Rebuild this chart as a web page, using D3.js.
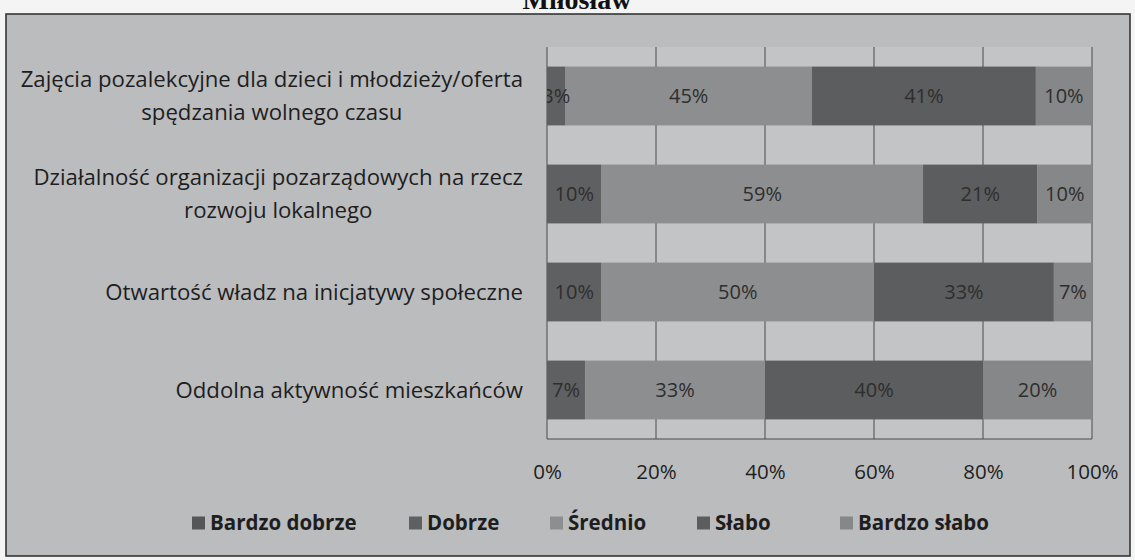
<!DOCTYPE html>
<html>
<head>
<meta charset="utf-8">
<script src="https://cdn.jsdelivr.net/npm/d3@7"></script>
<style>
  body { margin: 0; background: #f4f4f4; }
  text { font-family: "Open Sans", "Noto Sans", sans-serif; }
</style>
</head>
<body>
<svg id="chart" width="1135" height="560"></svg>
<script>
const title = "Miłosław";
const categories = [
    ["Zajęcia pozalekcyjne dla dzieci i młodzieży/oferta", "spędzania wolnego czasu"],
    ["Działalność organizacji pozarządowych na rzecz", "rozwoju lokalnego"],
    ["Otwartość władz na inicjatywy społeczne"],
    ["Oddolna aktywność mieszkańców"]
];
const seriesNames = ["Bardzo dobrze", "Dobrze", "Średnio", "Słabo", "Bardzo słabo"];
const bardzoDobrze = [0, 0, 0, 0];
const dobrze = [3.4, 10, 10, 7];
const srednio = [45.2, 59, 50, 33];
const slabo = [41.1, 21, 33, 40];
const bardzoSlabo = [10.3, 10, 7, 20];
const tickValues = [0, 20, 40, 60, 80, 100];
const colors = ["#555657", "#5f6061", "#8d8e8f", "#5c5d5e", "#868788"];

const svg = d3.select("#chart");
const W = 1135, H = 560;
const plot = {left: 547, right: 1092, top: 47, bottom: 439};

// background + frame
svg.append("rect").attr("width", W).attr("height", H).attr("fill", "#f4f4f4");
svg.append("rect")
    .attr("x", 6).attr("y", 14).attr("width", 1124).attr("height", 542)
    .attr("fill", "#bbbcbe").attr("stroke", "#2a2a2a").attr("stroke-width", 1.5);

svg.append("text")
    .attr("x", 577).attr("y", 9)
    .attr("text-anchor", "middle")
    .style("font-family", "'Liberation Serif', serif")
    .style("font-weight", "bold")
    .style("font-size", "28px")
    .attr("fill", "#111")
    .text(title);

const keys = categories.map(c => c.join(" "));
const rows = keys.map((k, i) => ({
    key: k,
    "Bardzo dobrze": bardzoDobrze[i],
    "Dobrze": dobrze[i],
    "Średnio": srednio[i],
    "Słabo": slabo[i],
    "Bardzo słabo": bardzoSlabo[i]
}));

const x = d3.scaleLinear().domain([0, 100]).range([plot.left, plot.right]);
const y = d3.scaleBand().domain(keys).range([plot.top, plot.bottom])
    .paddingInner(0.4).paddingOuter(0.2);
const color = d3.scaleOrdinal().domain(seriesNames).range(colors);

// plot area
svg.append("rect")
    .attr("x", plot.left).attr("y", plot.top)
    .attr("width", plot.right - plot.left).attr("height", plot.bottom - plot.top)
    .attr("fill", "#c3c4c6");

// gridlines
svg.append("g").selectAll("line").data(tickValues).join("line")
    .attr("x1", d => x(d)).attr("x2", d => x(d))
    .attr("y1", plot.top).attr("y2", plot.bottom)
    .attr("stroke", "#4a4a4a").attr("stroke-width", 1);
svg.append("line")
    .attr("x1", plot.left).attr("x2", plot.right)
    .attr("y1", plot.bottom).attr("y2", plot.bottom)
    .attr("stroke", "#4a4a4a").attr("stroke-width", 1.2);

const stacked = d3.stack().keys(seriesNames)(rows);

svg.append("defs").append("clipPath").attr("id", "plotclip")
    .append("rect").attr("x", plot.left).attr("y", plot.top)
    .attr("width", plot.right - plot.left).attr("height", plot.bottom - plot.top);

const series = svg.append("g").selectAll("g").data(stacked).join("g")
    .attr("fill", d => color(d.key));
series.selectAll("rect").data(d => d).join("rect")
    .attr("x", d => x(d[0]))
    .attr("y", d => y(d.data.key))
    .attr("width", d => x(d[1]) - x(d[0]))
    .attr("height", y.bandwidth());

// value labels
const labels = svg.append("g").attr("clip-path", "url(#plotclip)");
stacked.forEach(s => {
    labels.selectAll(null).data(s.filter(d => d[1] - d[0] > 0)).join("text")
        .attr("x", d => x((d[0] + d[1]) / 2))
        .attr("y", d => y(d.data.key) + y.bandwidth() / 2)
        .attr("dy", "0.35em")
        .attr("text-anchor", "middle")
        .style("font-size", "20px")
        .attr("fill", "#2e2e2e")
        .text(d => Math.round(d[1] - d[0]) + "%");
});

// x axis tick labels
const xAxis = svg.append("g")
    .attr("transform", `translate(0,${plot.bottom})`)
    .call(d3.axisBottom(x).tickValues(tickValues).tickFormat(d => d + "%").tickSize(0).tickPadding(25));
xAxis.select(".domain").remove();
xAxis.selectAll("text")
    .style("font-family", "'Open Sans', sans-serif")
    .style("font-size", "20.5px")
    .attr("fill", "#1e1e1e");

// category labels (right-aligned block, lines centred)
const labelRight = 523;
const lineH = 33;
const catG = svg.append("g");
categories.forEach((lines, i) => {
    const cy = y(keys[i]) + y.bandwidth() / 2;
    const t = catG.append("text")
        .attr("text-anchor", "middle")
        .style("font-size", "22.2px")
        .attr("fill", "#1e1e1e");
    lines.forEach((ln, j) => {
        t.append("tspan")
            .attr("y", cy + (j - (lines.length - 1) / 2) * lineH)
            .attr("dy", "0.35em")
            .text(ln);
    });
    let maxW = 0;
    t.selectAll("tspan").each(function () {
        maxW = Math.max(maxW, this.getComputedTextLength());
    });
    t.selectAll("tspan").attr("x", labelRight - maxW / 2);
});

// legend
const legendX = [192, 409, 550, 697, 840];
const legend = svg.append("g").selectAll("g").data(seriesNames).join("g")
    .attr("transform", (d, i) => `translate(${legendX[i]},523)`);
legend.append("rect")
    .attr("x", 0).attr("y", -6.5).attr("width", 13).attr("height", 13)
    .attr("fill", d => color(d));
legend.append("text")
    .attr("x", 18).attr("dy", "0.35em")
    .style("font-size", "20.5px")
    .style("font-weight", "bold")
    .attr("fill", "#1e1e1e")
    .text(d => d);
</script>
</body>
</html>
